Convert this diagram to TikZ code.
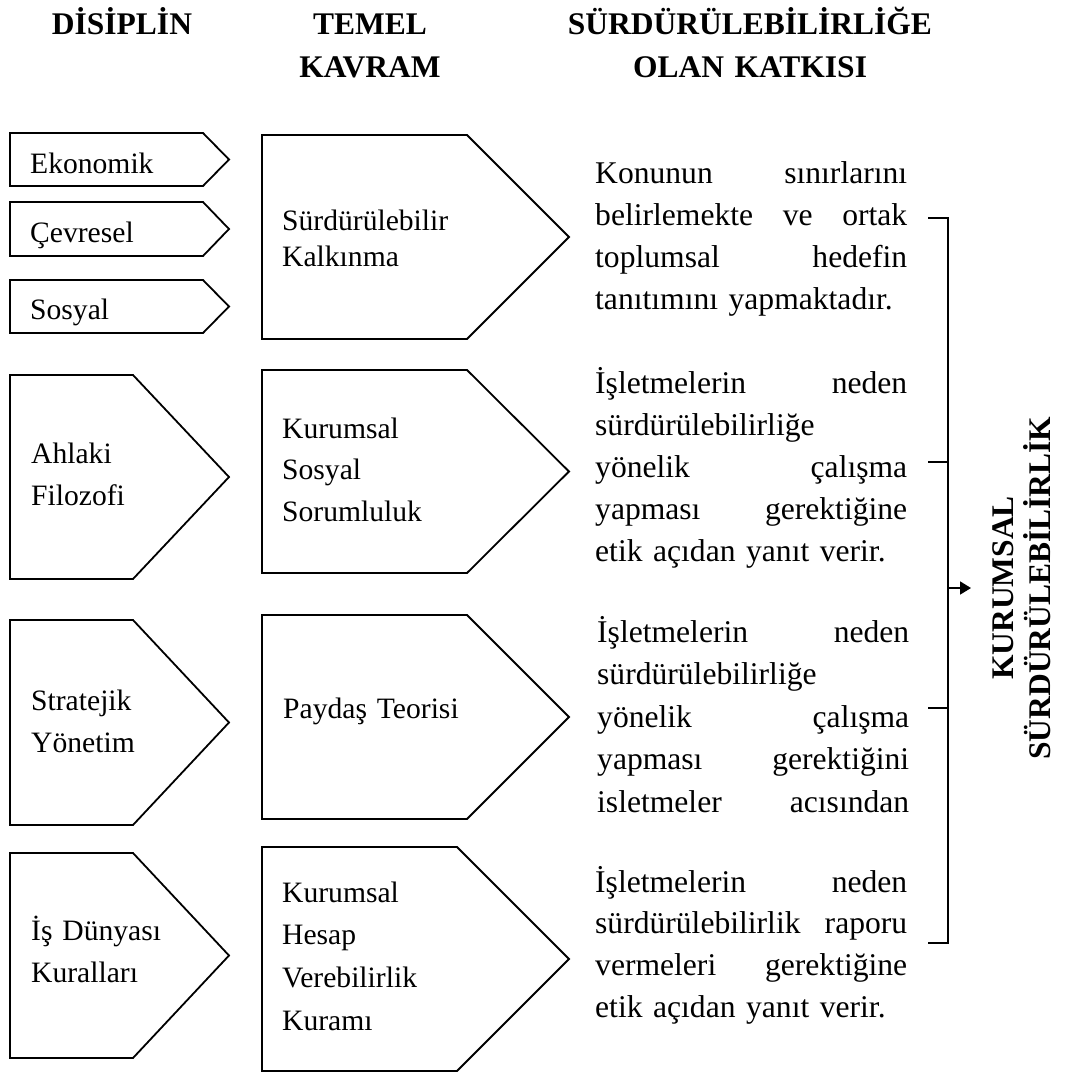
\documentclass[tikz,border=0pt]{standalone}
\usepackage{fontspec}
\setmainfont{Liberation Serif}
\usetikzlibrary{arrows.meta}

% chevron outline: left, top, end of straight edge, tip, bottom
\newcommand\chevshape[5]{%
  \draw[chev] (#1,#2) -- (#3,#2) -- (#4,{(#2+#5)/2}) -- (#3,#5) -- (#1,#5) -- cycle;}
% justified lines of fixed width, with two or three words
\newcommand\jtwo[2]{\makebox[312pt]{#1\hfill#2}}
\newcommand\jthree[3]{\makebox[312pt]{#1\hfill#2\hfill#3}}

\begin{document}
\begin{tikzpicture}[x=1pt,y=-1pt,
  chev/.style={draw=black, line width=1.8pt, line join=miter, fill=white},
  body/.style={font=\fontsize{29.6pt}{42.2pt}\selectfont, inner sep=0pt,
    anchor=base west, text width=320pt},
  note/.style={body, font=\fontsize{31.6pt}{#1}\selectfont},
  note/.default=42.2pt,
  head/.style={font=\fontsize{31.5pt}{43pt}\selectfont\bfseries, inner sep=0pt,
    anchor=base, text width=420pt},
  rot/.style={font=\fontsize{31.5pt}{37pt}\selectfont\bfseries, inner sep=0pt,
    align=center, rotate=90},
  brk/.style={line width=1.8pt}]
\useasboundingbox (0,0) rectangle (1069,1074);

% column headings
\node[head] (h1) at (122,34) {\centering DİSİPLİN\par};
\node[head] (h2) at (370,34) {\centering TEMEL\\KAVRAM\par};
\node[head] (h3) at (750,34) {\centering SÜRDÜRÜLEBİLİRLİĞE\\OLAN KATKISI\par};

% disciplines
\chevshape{10}{133}{203}{229}{186}
\chevshape{10}{202}{203}{229}{256}
\chevshape{10}{280}{203}{229}{333}
\chevshape{10}{375}{133}{229}{579}
\chevshape{10}{620}{133}{229}{825}
\chevshape{10}{853}{133}{229}{1058}
\node[body] (d1) at (30,173) {Ekonomik};
\node[body] (d2) at (30,242) {Çevresel};
\node[body] (d3) at (30,319) {Sosyal};
\node[body] (d4) at (31,463) {Ahlaki\\Filozofi};
\node[body] (d5) at (31,710) {Stratejik\\Yönetim};
\node[body] (d6) at (31,940) {İş Dünyası\\Kuralları};

% basic concepts
\chevshape{262}{135}{467}{569}{339}
\chevshape{262}{370}{467}{569}{573}
\chevshape{262}{615}{467}{569}{819}
\chevshape{262}{847}{457}{569}{1071}
\node[body, font=\fontsize{29.6pt}{36.7pt}\selectfont] (k1) at (282,230) {Sürdürülebilir\\Kalkınma};
\node[body, font=\fontsize{29.6pt}{41.7pt}\selectfont] (k2) at (282,438) {Kurumsal\\Sosyal\\Sorumluluk};
\node[body] (k3) at (283,718) {Paydaş Teorisi};
\node[body, font=\fontsize{29.6pt}{42.8pt}\selectfont] (k4) at (282,902) {Kurumsal\\Hesap\\Verebilirlik\\Kuramı};

% contributions
\node[note] (c1) at (595,183) {\jtwo{Konunun}{sınırlarını}\\\jthree{belirlemekte}{ve}{ortak}\\\jtwo{toplumsal}{hedefin}\\tanıtımını yapmaktadır.};
\node[note] (c2) at (595,393) {\jtwo{İşletmelerin}{neden}\\sürdürülebilirliğe\\\jtwo{yönelik}{çalışma}\\\jtwo{yapması}{gerektiğine}\\etik açıdan yanıt verir.};
\node[note=42.5pt] (c3) at (597,642) {\jtwo{İşletmelerin}{neden}\\sürdürülebilirliğe\\\jtwo{yönelik}{çalışma}\\\jtwo{yapması}{gerektiğini}\\\jtwo{isletmeler}{acısından}};
\node[note=41.7pt] (c4) at (595,892) {\jtwo{İşletmelerin}{neden}\\\jtwo{sürdürülebilirlik}{raporu}\\\jtwo{vermeleri}{gerektiğine}\\etik açıdan yanıt verir.};

% result
\node[rot] (ks) at (1022,588) {KURUMSAL\\SÜRDÜRÜLEBİLİRLİK};

% bracket collecting the contributions
\coordinate (t1) at (928,218);
\coordinate (t2) at (928,462);
\coordinate (t3) at (928,708);
\coordinate (t4) at (928,943);
\coordinate (bt) at (948,218);
\coordinate (bb) at (948,943);
\coordinate (bm) at (948,588);
\coordinate (ae) at (971,588);
\draw[brk, line join=miter] (t1) -- (bt) -- (bb) -- (t4);
\draw[brk] (t2) -- (t2 -| bt);
\draw[brk] (t3) -- (t3 -| bt);
\draw[brk, -{Triangle[length=11pt,width=13pt]}] (bm) -- (ae);
\end{tikzpicture}
\end{document}
